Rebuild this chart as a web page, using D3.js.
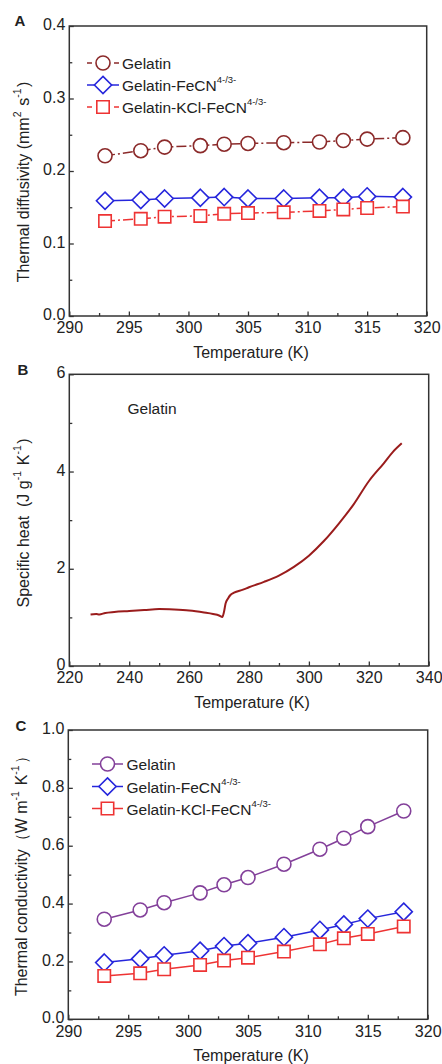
<!DOCTYPE html>
<html>
<head>
<meta charset="utf-8">
<script src="https://cdn.jsdelivr.net/npm/d3@7/dist/d3.min.js"></script>
<style>
  html, body { margin: 0; padding: 0; background: #fff; }
  svg { display: block; }
  text { font-family: "Liberation Sans", Arial, sans-serif; fill: #222; }
</style>
</head>
<body>
<svg id="chart" width="442" height="1064"></svg>
<script>
// ---------------- DATA ----------------
const temps = [293, 296, 298, 301, 303, 305, 308, 311, 313, 315, 318];

const diffGelatin = [0.221, 0.228, 0.233, 0.235, 0.237, 0.238, 0.239, 0.240, 0.242, 0.244, 0.246];
const diffFeCN    = [0.159, 0.160, 0.162, 0.163, 0.164, 0.162, 0.162, 0.163, 0.163, 0.165, 0.164];
const diffKClFeCN = [0.131, 0.134, 0.137, 0.138, 0.141, 0.142, 0.143, 0.145, 0.147, 0.149, 0.151];

const cpTemp  = [227.1, 229, 230, 232, 235, 240, 245, 250, 255, 260, 265, 268, 270, 271.1, 271.6, 272.2, 273, 273.8, 275, 278, 280, 285, 290, 295, 300, 305, 310, 315, 320, 325, 328, 331];
const cpValue = [1.06, 1.07, 1.06, 1.09, 1.11, 1.13, 1.15, 1.17, 1.16, 1.14, 1.10, 1.07, 1.04, 1.01, 1.10, 1.29, 1.39, 1.46, 1.51, 1.57, 1.62, 1.73, 1.86, 2.04, 2.27, 2.57, 2.93, 3.33, 3.80, 4.17, 4.40, 4.58];

const condGelatin = [0.346, 0.378, 0.403, 0.437, 0.465, 0.490, 0.536, 0.588, 0.626, 0.666, 0.720];
const condFeCN    = [0.196, 0.209, 0.221, 0.237, 0.253, 0.263, 0.284, 0.309, 0.328, 0.348, 0.372];
const condKClFeCN = [0.150, 0.159, 0.173, 0.188, 0.203, 0.213, 0.234, 0.259, 0.280, 0.295, 0.321];

const seriesNames = ["Gelatin", "Gelatin-FeCN", "Gelatin-KCl-FeCN"];
const ionSup = "4-/3-";

const xTicksAC = [290, 295, 300, 305, 310, 315, 320];
const xMinorAC = [292.5, 297.5, 302.5, 307.5, 312.5, 317.5];
const yTicksA = [0.0, 0.1, 0.2, 0.3, 0.4];
const yMinorA = [0.05, 0.15, 0.25, 0.35];
const xTicksB = [220, 240, 260, 280, 300, 320, 340];
const xMinorB = [230, 250, 270, 290, 310, 330];
const yTicksB = [0, 2, 4, 6];
const yMinorB = [1, 3, 5];
const yTicksC = [0.0, 0.2, 0.4, 0.6, 0.8, 1.0];
const yMinorC = [0.1, 0.3, 0.5, 0.7, 0.9];

// ---------------- STYLE ----------------
const frameColor = "#333";
const tickFont = 16;
const titleFont = 16;
const legendFont = 15.5;

const svg = d3.select("#chart");

function makePanel(cfg) {
  const g = svg.append("g");
  const x = d3.scaleLinear().domain(cfg.xDomain).range([cfg.left, cfg.right]);
  const y = d3.scaleLinear().domain(cfg.yDomain).range([cfg.bottom, cfg.top]);

  const xa = g.append("g").attr("transform", `translate(0,${cfg.bottom})`)
    .call(d3.axisBottom(x).tickValues(cfg.xTicks).tickFormat(d3.format(cfg.xFmt)).tickSizeInner(-4.5).tickSizeOuter(0).tickPadding(6));
  const xm = g.append("g").attr("transform", `translate(0,${cfg.bottom})`)
    .call(d3.axisBottom(x).tickValues(cfg.xMinor).tickFormat("").tickSizeInner(-3).tickSizeOuter(0));
  const ya = g.append("g").attr("transform", `translate(${cfg.left},0)`)
    .call(d3.axisLeft(y).tickValues(cfg.yTicks).tickFormat(d3.format(cfg.yFmt)).tickSizeInner(-4.5).tickSizeOuter(0).tickPadding(4));
  const ym = g.append("g").attr("transform", `translate(${cfg.left},0)`)
    .call(d3.axisLeft(y).tickValues(cfg.yMinor).tickFormat("").tickSizeInner(-3).tickSizeOuter(0));
  [xa, xm, ya, ym].forEach(a => {
    a.select(".domain").remove();
    a.selectAll("line").attr("stroke", frameColor).attr("stroke-width", 1.3);
    a.selectAll("text").attr("font-size", tickFont).attr("fill", "#222")
      .style("font-family", '"Liberation Sans", Arial, sans-serif');
  });
  ya.selectAll("text").attr("y", -1.5);

  g.append("rect")
    .attr("x", cfg.left).attr("y", cfg.top)
    .attr("width", cfg.right - cfg.left).attr("height", cfg.bottom - cfg.top)
    .attr("fill", "none").attr("stroke", frameColor).attr("stroke-width", 1.5);

  g.append("text").attr("x", (cfg.left + cfg.right) / 2 + 3).attr("y", cfg.bottom + 36)
    .attr("text-anchor", "middle").attr("dominant-baseline", "central")
    .attr("font-size", titleFont).text("Temperature (K)");

  const yt = g.append("text")
    .attr("transform", `translate(${cfg.yTitleX},${cfg.yTitleY}) rotate(-90)`)
    .attr("text-anchor", "middle").attr("dominant-baseline", "central")
    .attr("font-size", titleFont).attr("xml:space", "preserve");
  cfg.yTitle.forEach(p => {
    if (p.sup) {
      yt.append("tspan").attr("dy", -6).attr("font-size", 10.5).text(p.t);
      yt.append("tspan").attr("dy", 6).text("\u200A");
    } else {
      yt.append("tspan").text(p.t);
    }
  });

  g.append("text").attr("x", cfg.letterX).attr("y", cfg.letterY)
    .attr("text-anchor", "middle").attr("dominant-baseline", "central")
    .attr("font-size", 15).attr("font-weight", "bold").text(cfg.letter);

  return { g, x, y };
}

function markerPath(type, s) {
  if (type === "circle") {
    return `M${s},0A${s},${s} 0 1,1 ${-s},0A${s},${s} 0 1,1 ${s},0Z`;
  } else if (type === "diamond") {
    return `M0,${-s}L${s},0L0,${s}L${-s},0Z`;
  } else {
    return `M${-s},${-s}H${s}V${s}H${-s}Z`;
  }
}

const markerSize = { circle: 7, diamond: 8.6, square: 6.2 };

function drawSeries(p, xs, ys, color, type, dash) {
  const pts = xs.map((v, i) => [p.x(v), p.y(ys[i])]);
  p.g.append("path").attr("d", d3.line()(pts))
    .attr("fill", "none").attr("stroke", color).attr("stroke-width", 1.5)
    .attr("stroke-dasharray", dash || null);
  p.g.selectAll(null).data(pts).enter().append("path")
    .attr("transform", d => `translate(${d[0]},${d[1]})`)
    .attr("d", markerPath(type, markerSize[type]))
    .attr("fill", "#fff").attr("stroke", color).attr("stroke-width", 1.6);
}

function drawLegend(p, items, lx0, lx1, mx, tx, ys) {
  items.forEach((it, i) => {
    const yy = ys[i];
    if (it.dashedLegend) {
      p.g.append("line").attr("x1", lx0).attr("x2", lx0 + 5).attr("y1", yy).attr("y2", yy)
        .attr("stroke", it.color).attr("stroke-width", 1.5);
      p.g.append("line").attr("x1", lx1 - 5).attr("x2", lx1).attr("y1", yy).attr("y2", yy)
        .attr("stroke", it.color).attr("stroke-width", 1.5);
    } else {
      p.g.append("line").attr("x1", lx0).attr("x2", lx1).attr("y1", yy).attr("y2", yy)
        .attr("stroke", it.color).attr("stroke-width", 1.5);
    }
    p.g.append("path").attr("transform", `translate(${mx},${yy})`)
      .attr("d", markerPath(it.type, markerSize[it.type]))
      .attr("fill", "#fff").attr("stroke", it.color).attr("stroke-width", 1.6);
    const t = p.g.append("text").attr("x", tx).attr("y", yy)
      .attr("dominant-baseline", "central").attr("font-size", legendFont);
    t.append("tspan").text(it.name);
    if (it.sup) t.append("tspan").attr("dy", -6).attr("font-size", 9.5).text(it.sup);
  });
}

// ---------------- PANEL A ----------------
const pA = makePanel({
  left: 69.3, right: 426.7, top: 26, bottom: 316,
  xDomain: [290, 320], yDomain: [0, 0.4],
  xTicks: xTicksAC, xMinor: xMinorAC, yTicks: yTicksA, yMinor: yMinorA,
  xFmt: "d", yFmt: ".1f",
  yTitle: [{ t: "Thermal diffusivity (mm" }, { t: "2", sup: true }, { t: " s" }, { t: "-1", sup: true }, { t: ")" }],
  yTitleX: 23, yTitleY: 182,
  letter: "A", letterX: 20, letterY: 20
});
const colA = { gel: "#8B2A2A", fe: "#2626DC", kcl: "#EE3333" };
drawSeries(pA, temps, diffGelatin, colA.gel, "circle", "10,3,2,3");
drawSeries(pA, temps, diffFeCN, colA.fe, "diamond", null);
drawSeries(pA, temps, diffKClFeCN, colA.kcl, "square", "10,3,2,3");
drawLegend(pA, [
  { name: seriesNames[0], color: colA.gel, type: "circle", dashedLegend: true },
  { name: seriesNames[1], color: colA.fe, type: "diamond", sup: ionSup },
  { name: seriesNames[2], color: colA.kcl, type: "square", sup: ionSup, dashedLegend: true }
], 87, 119, 103, 122, [63, 85, 107]);

// ---------------- PANEL B ----------------
const pB = makePanel({
  left: 69.3, right: 428.7, top: 374.3, bottom: 666,
  xDomain: [220, 340], yDomain: [0, 6],
  xTicks: xTicksB, xMinor: xMinorB, yTicks: yTicksB, yMinor: yMinorB,
  xFmt: "d", yFmt: "d",
  yTitle: [{ t: "Specific heat  (J g" }, { t: "-1", sup: true }, { t: " K" }, { t: "-1", sup: true }, { t: ")" }],
  yTitleX: 23, yTitleY: 523,
  letter: "B", letterX: 23, letterY: 369
});
pB.g.append("path")
  .attr("d", d3.line().curve(d3.curveMonotoneX)(cpTemp.map((t, i) => [pB.x(t), pB.y(cpValue[i])])))
  .attr("fill", "none").attr("stroke", "#9A1C1C").attr("stroke-width", 2);
pB.g.append("text").attr("x", 127.5).attr("y", 408).attr("dominant-baseline", "central")
  .attr("font-size", legendFont).text("Gelatin");

// ---------------- PANEL C ----------------
const pC = makePanel({
  left: 68.3, right: 427.7, top: 730, bottom: 1019.3,
  xDomain: [290, 320], yDomain: [0, 1],
  xTicks: xTicksAC, xMinor: xMinorAC, yTicks: yTicksC, yMinor: yMinorC,
  xFmt: "d", yFmt: ".1f",
  yTitle: [{ t: "Thermal conductivity\uFF08W m" }, { t: "-1", sup: true }, { t: " K" }, { t: "-1", sup: true }, { t: "\uFF09" }],
  yTitleX: 21, yTitleY: 872,
  letter: "C", letterX: 21, letterY: 725
});
const colC = { gel: "#83409A", fe: "#2626DC", kcl: "#EE3333" };
drawSeries(pC, temps, condGelatin, colC.gel, "circle", null);
drawSeries(pC, temps, condFeCN, colC.fe, "diamond", null);
drawSeries(pC, temps, condKClFeCN, colC.kcl, "square", null);
drawLegend(pC, [
  { name: seriesNames[0], color: colC.gel, type: "circle" },
  { name: seriesNames[1], color: colC.fe, type: "diamond", sup: ionSup },
  { name: seriesNames[2], color: colC.kcl, type: "square", sup: ionSup }
], 92, 123, 107.5, 126.5, [764, 786.5, 808.5]);
</script>
</body>
</html>
